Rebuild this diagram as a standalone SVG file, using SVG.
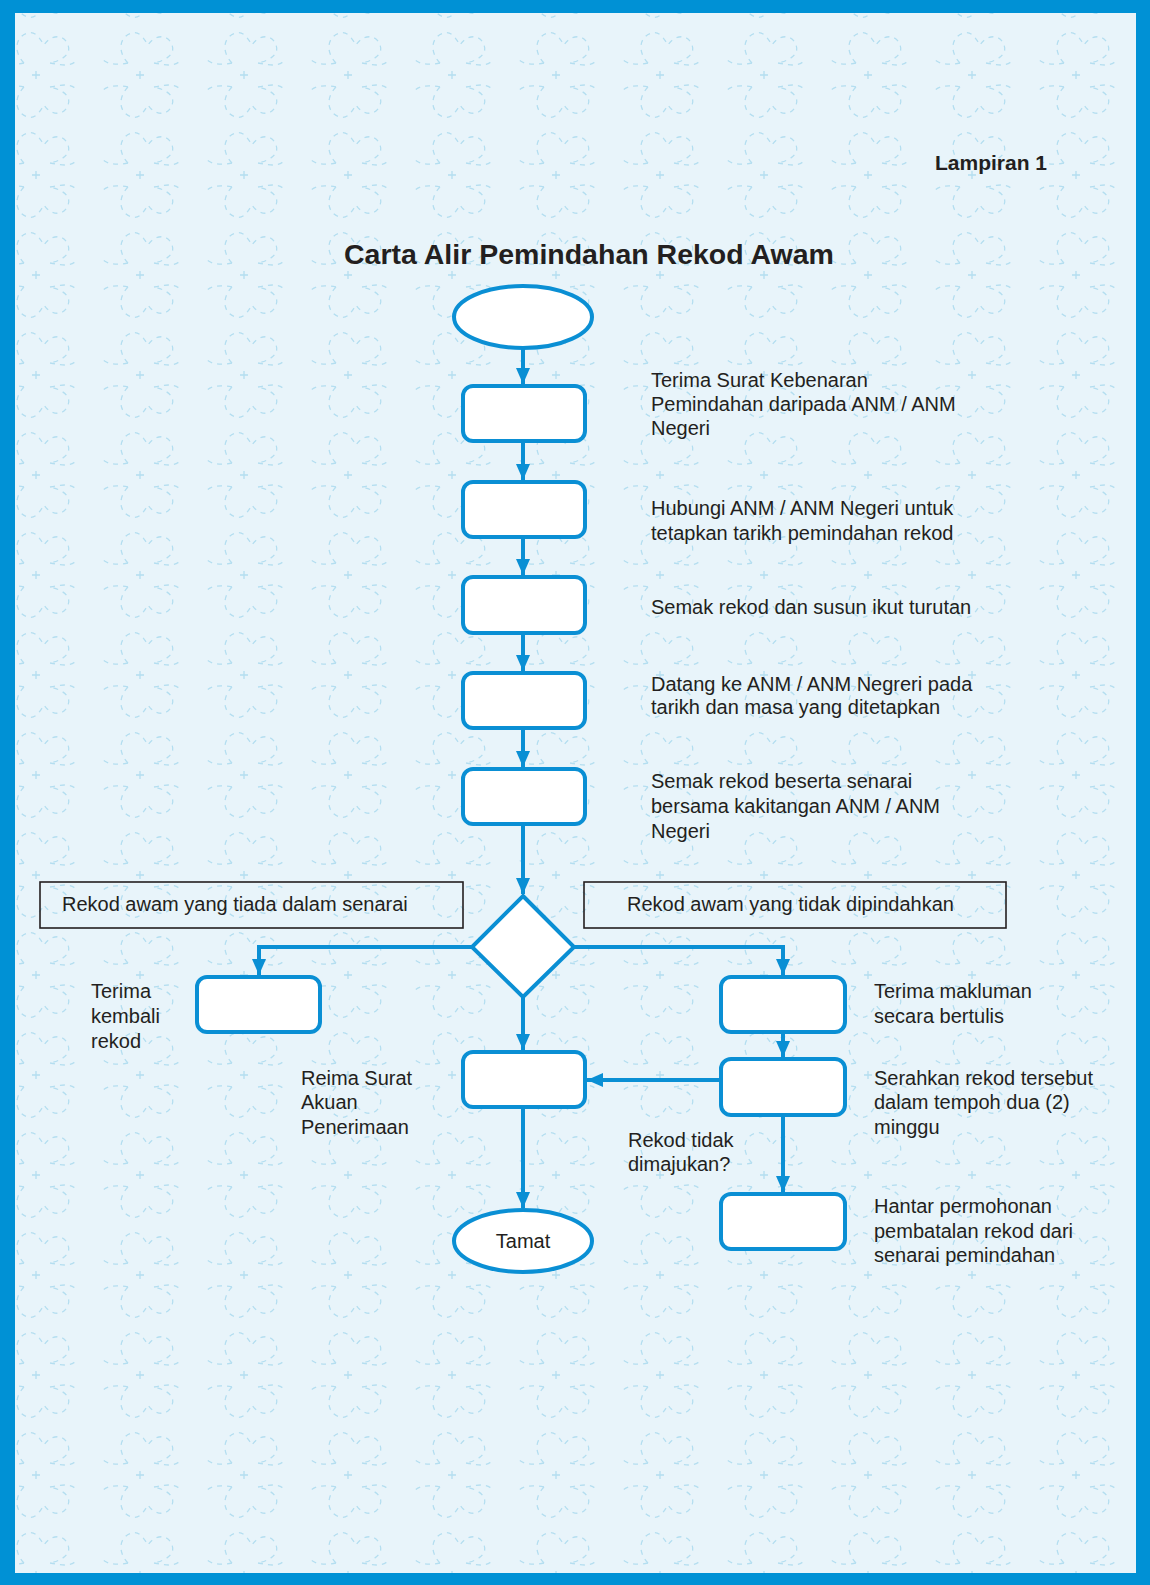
<svg xmlns="http://www.w3.org/2000/svg" width="1150" height="1585" viewBox="0 0 1150 1585">
<defs>
<pattern id="bgp" x="-16" y="25" width="104" height="100" patternUnits="userSpaceOnUse">
<g fill="none" stroke="#b4def0" stroke-width="1.3" stroke-dasharray="5 5">
<path d="M40,38 C30,28 30,12 44,8 C52,6 56,14 60,20 C66,10 80,8 84,20 C88,30 76,36 66,38"/>
<path d="M40,62 C30,72 30,88 44,92 C52,94 56,86 60,80 C66,90 80,92 84,80 C88,70 76,64 66,62"/>
<path d="M40,38 C30,40 20,40 14,34 M66,38 C76,40 86,42 92,36"/>
<path d="M40,62 C30,60 20,60 14,66 M66,62 C76,60 86,58 92,64"/>
</g>
<g stroke="#b4def0" stroke-width="1.3">
<path d="M48,50 h8 M52,46 v8"/>
</g>
</pattern>
<marker id="ah" markerUnits="userSpaceOnUse" markerWidth="16" markerHeight="14" refX="16" refY="7" orient="auto">
<path d="M0,0 L16,7 L0,14 z" fill="#0a8fd4"/>
</marker>
<style>
.node{fill:#ffffff;stroke:#0a8fd4;stroke-width:4}
.lbl{fill:none;stroke:#231f20;stroke-width:1.6}
.conn{fill:none;stroke:#0a8fd4;stroke-width:4;marker-end:url(#ah)}
text{font-family:"Liberation Sans",Arial,Helvetica,sans-serif;fill:#231f20;font-size:20px}
.title{font-size:28.5px;font-weight:bold}
.lamp{font-size:21px;font-weight:bold}
</style>
</defs>
<rect x="0" y="0" width="1150" height="1585" fill="#0091d5"/>
<rect x="15" y="13" width="1121" height="1560" fill="#e8f4fa"/>
<rect x="15" y="13" width="1121" height="1560" fill="url(#bgp)"/>

<text class="lamp" x="935" y="170">Lampiran 1</text>
<text class="title" x="589" y="264" text-anchor="middle">Carta Alir Pemindahan Rekod Awam</text>

<g id="connectors">
<line class="conn" x1="523" y1="348" x2="523" y2="384"/>
<line class="conn" x1="523" y1="441" x2="523" y2="480"/>
<line class="conn" x1="523" y1="537" x2="523" y2="575"/>
<line class="conn" x1="523" y1="633" x2="523" y2="671"/>
<line class="conn" x1="523" y1="728" x2="523" y2="767"/>
<line class="conn" x1="523" y1="824" x2="523" y2="894"/>
<polyline class="conn" points="472,947 259,947 259,975"/>
<polyline class="conn" points="574,947 783,947 783,975"/>
<line class="conn" x1="523" y1="997" x2="523" y2="1050"/>
<line class="conn" x1="783" y1="1032" x2="783" y2="1057"/>
<line class="conn" x1="721" y1="1080" x2="587" y2="1080"/>
<line class="conn" x1="783" y1="1115" x2="783" y2="1192"/>
<line class="conn" x1="523" y1="1107" x2="523" y2="1208"/>
</g>

<g id="start"><ellipse class="node" cx="523" cy="317" rx="69" ry="31"/></g>
<g id="step1"><rect class="node" x="463" y="386" width="122" height="55" rx="10"/>
<text x="651" y="387">Terima Surat Kebenaran</text><text x="651" y="411">Pemindahan daripada ANM / ANM</text><text x="651" y="435">Negeri</text></g>
<g id="step2"><rect class="node" x="463" y="482" width="122" height="55" rx="10"/>
<text x="651" y="515">Hubungi ANM / ANM Negeri untuk</text><text x="651" y="540">tetapkan tarikh pemindahan rekod</text></g>
<g id="step3"><rect class="node" x="463" y="577" width="122" height="56" rx="10"/>
<text x="651" y="614">Semak rekod dan susun ikut turutan</text></g>
<g id="step4"><rect class="node" x="463" y="673" width="122" height="55" rx="10"/>
<text x="651" y="691">Datang ke ANM / ANM Negreri pada</text><text x="651" y="714">tarikh dan masa yang ditetapkan</text></g>
<g id="step5"><rect class="node" x="463" y="769" width="122" height="55" rx="10"/>
<text x="651" y="788">Semak rekod beserta senarai</text><text x="651" y="813">bersama kakitangan ANM / ANM</text><text x="651" y="838">Negeri</text></g>

<g id="label-left"><rect class="lbl" x="40" y="882" width="423" height="46"/>
<text x="62" y="911">Rekod awam yang tiada dalam senarai</text></g>
<g id="label-right"><rect class="lbl" x="584" y="882" width="422" height="46"/>
<text x="627" y="911">Rekod awam yang tidak dipindahkan</text></g>

<g id="decision"><polygon class="node" points="523,896 574,947 523,997 472,947"/></g>

<g id="left-box"><rect class="node" x="197" y="977" width="123" height="55" rx="10"/>
<text x="91" y="998">Terima</text><text x="91" y="1023">kembali</text><text x="91" y="1048">rekod</text></g>
<g id="right-box1"><rect class="node" x="721" y="977" width="124" height="55" rx="10"/>
<text x="874" y="998">Terima makluman</text><text x="874" y="1023">secara bertulis</text></g>
<g id="mid-box"><rect class="node" x="463" y="1052" width="122" height="55" rx="10"/>
<text x="301" y="1085">Reima Surat</text><text x="301" y="1109">Akuan</text><text x="301" y="1134">Penerimaan</text></g>
<g id="right-box2"><rect class="node" x="721" y="1059" width="124" height="56" rx="10"/>
<text x="874" y="1085">Serahkan rekod tersebut</text><text x="874" y="1109">dalam tempoh dua (2)</text><text x="874" y="1134">minggu</text></g>
<g id="note"><text x="628" y="1147">Rekod tidak</text><text x="628" y="1171">dimajukan?</text></g>
<g id="right-box3"><rect class="node" x="721" y="1194" width="124" height="55" rx="10"/>
<text x="874" y="1213">Hantar permohonan</text><text x="874" y="1238">pembatalan rekod dari</text><text x="874" y="1262">senarai pemindahan</text></g>
<g id="end"><ellipse class="node" cx="523" cy="1241" rx="69" ry="31"/>
<text x="523" y="1248" text-anchor="middle">Tamat</text></g>
</svg>
